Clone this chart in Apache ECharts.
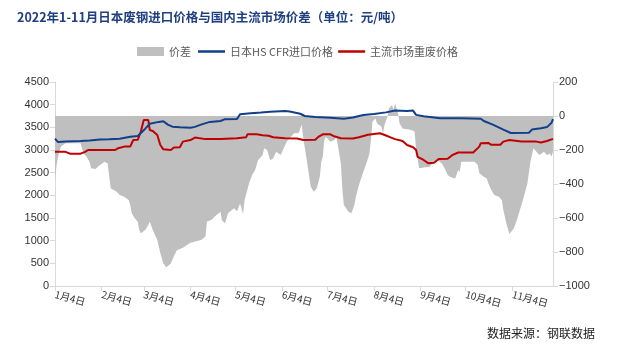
<!DOCTYPE html>
<html>
<head>
<meta charset="utf-8">
<script src="https://cdn.jsdelivr.net/npm/echarts@6/dist/echarts.min.js"></script>
<style>
  html, body { margin: 0; padding: 0; background: #fff; }
  #chart { width: 625px; height: 354px; }
</style>
</head>
<body>
<div id="chart"></div>
<script>
// tick dates on the x axis (4th of each month)
var tickDates = ['01-04', '02-04', '03-04', '04-04', '05-04', '06-04', '07-04', '08-04', '09-04', '10-04', '11-04'];

// 日本HS CFR进口价格 (left axis)
var importDates = ['01-04', '01-06', '01-11', '01-21', '01-27', '02-03', '02-09', '02-16', '02-23', '02-28',
  '03-01', '03-05', '03-08', '03-14', '03-17', '03-20', '03-23', '03-28', '04-04', '04-07',
  '04-11', '04-17', '04-24', '04-27', '05-05', '05-07', '05-14', '05-21', '05-27', '06-06',
  '06-09', '06-16', '06-19', '06-26', '07-06', '07-15', '07-21', '07-28', '08-04', '08-12',
  '08-18', '08-26', '08-30', '09-01', '09-06', '09-17', '10-01', '10-14', '10-16', '10-22',
  '10-29', '11-03', '11-15', '11-17', '11-23', '11-27', '11-30', '12-01'];
var importPrice = [3250, 3175, 3190, 3200, 3210, 3230, 3235, 3250, 3290, 3310,
  3320, 3470, 3580, 3620, 3635, 3560, 3515, 3500, 3490, 3510,
  3560, 3620, 3640, 3680, 3685, 3790, 3810, 3825, 3845, 3860,
  3850, 3800, 3750, 3730, 3710, 3690, 3715, 3770, 3795, 3830,
  3870, 3860, 3870, 3775, 3745, 3700, 3700, 3690, 3640, 3560,
  3450, 3375, 3380, 3450, 3480, 3505, 3600, 3680];

// 主流市场重废价格 (left axis)
var domesticDates = ['01-04', '01-11', '01-14', '01-21', '01-24', '01-26', '02-13', '02-15', '02-19', '02-23',
  '02-25', '02-28', '03-02', '03-04', '03-07', '03-08', '03-10', '03-13', '03-15', '03-17',
  '03-22', '03-24', '03-28', '03-30', '04-04', '04-07', '04-14', '04-24', '05-05', '05-11',
  '05-12', '05-18', '05-22', '05-26', '05-29', '06-06', '06-14', '06-18', '06-26', '06-28',
  '07-01', '07-06', '07-08', '07-13', '07-21', '07-25', '07-31', '08-01', '08-08', '08-12',
  '08-15', '08-18', '08-23', '08-26', '08-30', '09-01', '09-02', '09-06', '09-09', '09-13',
  '09-16', '09-22', '09-25', '09-29', '10-09', '10-13', '10-14', '10-19', '10-21', '10-27',
  '10-29', '11-02', '11-10', '11-20', '11-23', '11-27', '12-01'];
var domesticPrice = [2960, 2960, 2920, 2920, 2960, 3000, 3000, 3040, 3075, 3075,
  3220, 3225, 3400, 3660, 3660, 3440, 3420, 3330, 3110, 3015,
  3000, 3055, 3060, 3185, 3220, 3275, 3240, 3245, 3260, 3280,
  3350, 3345, 3325, 3315, 3280, 3260, 3255, 3220, 3225, 3290,
  3345, 3345, 3310, 3260, 3255, 3280, 3335, 3370, 3370, 3320,
  3280, 3240, 3200, 3110, 3060, 3000, 2850, 2780, 2710, 2720,
  2800, 2805, 2885, 2945, 2945, 3075, 3150, 3155, 3115, 3115,
  3185, 3220, 3190, 3185, 3165, 3200, 3245];

// 价差 (right axis)
var spreadDates = ['01-04', '01-05', '01-06', '01-08', '01-09', '01-11', '01-21', '01-22', '01-23', '01-25',
  '01-27', '01-28', '01-31', '02-02', '02-06', '02-08', '02-10', '02-12', '02-14', '02-16',
  '02-19', '02-22', '02-23', '02-24', '02-26', '02-28', '03-01', '03-02', '03-05', '03-07',
  '03-08', '03-10', '03-13', '03-15', '03-17', '03-19', '03-22', '03-24', '03-26', '03-30',
  '04-04', '04-11', '04-14', '04-15', '04-18', '04-20', '04-24', '04-25', '04-27', '04-29',
  '05-03', '05-05', '05-07', '05-09', '05-10', '05-13', '05-15', '05-17', '05-19', '05-22',
  '05-23', '05-25', '05-27', '05-29', '05-31', '06-03', '06-05', '06-07', '06-09', '06-12',
  '06-15', '06-17', '06-18', '06-20', '06-21', '06-23', '06-25', '06-27', '06-29', '06-30',
  '07-01', '07-02', '07-03', '07-06', '07-09', '07-10', '07-11', '07-13', '07-14', '07-15',
  '07-18', '07-20', '07-22', '07-23', '07-25', '07-28', '07-30', '08-01', '08-02', '08-03',
  '08-05', '08-06', '08-09', '08-10', '08-11', '08-13', '08-14', '08-16', '08-17', '08-18',
  '08-20', '08-21', '08-23', '08-26', '08-29', '08-31', '09-01', '09-02', '09-03', '09-07',
  '09-10', '09-12', '09-15', '09-18', '09-20', '09-22', '09-24', '09-27', '09-29', '09-30',
  '10-01', '10-10', '10-12', '10-13', '10-16', '10-18', '10-19', '10-21', '10-23', '10-26',
  '10-28', '10-29', '10-31', '11-02', '11-03', '11-05', '11-07', '11-09', '11-11', '11-14',
  '11-16', '11-18', '11-20', '11-22', '11-25', '11-27', '11-29', '11-30', '12-01'];
var spread = [-380, -290, -240, -180, -170, -160, -160, -190, -220, -240,
  -270, -308, -312, -294, -269, -280, -425, -435, -445, -465,
  -475, -494, -523, -572, -602, -622, -670, -690, -670, -641,
  -622, -670, -729, -808, -867, -890, -867, -825, -790, -775,
  -745, -730, -710, -620, -612, -592, -563, -615, -631, -572,
  -543, -560, -514, -575, -494, -396, -347, -318, -259, -229,
  -190, -200, -260, -249, -210, -229, -190, -151, -130, -102,
  -100, -50, -130, -239, -300, -416, -445, -425, -357, -269,
  -239, -141, -122, -151, -140, -122, -130, -278, -435, -523,
  -563, -572, -523, -475, -406, -327, -278, -220, -141, -33,
  -14, -43, -63, -102, -53, -4, 45, 65, 35, 75,
  16, -43, -73, -78, -82, -92, -200, -250, -308, -302,
  -298, -278, -259, -278, -308, -347, -361, -367, -318, -330,
  -269, -269, -288, -337, -357, -367, -396, -435, -465, -475,
  -494, -553, -631, -694, -700, -661, -612, -553, -494, -396,
  -269, -190, -210, -229, -210, -229, -220, -239, -210];

// x positions are days counted from 1月4日 so the axis can use fixed tick values
var DAY = 24 * 3600 * 1000;
var start = Date.UTC(2022, 0, 4);
function toDay(s) {
  var p = s.split('-');
  return Math.round((Date.UTC(2022, +p[0] - 1, +p[1]) - start) / DAY);
}
function dayLabel(v) {
  var d = new Date(start + v * DAY);
  return (d.getUTCMonth() + 1) + '月' + d.getUTCDate() + '日';
}
function pairs(dates, values) {
  return dates.map(function (d, i) { return [toDay(d), values[i]]; });
}

var chart = echarts.init(document.getElementById('chart'));
var axisColor = '#D9D9D9';
var labelColor = '#333';
var ticks = tickDates.map(toDay);
var blue = '#123F8C';
var red = '#C00000';
var grey = '#BFBFBF';
var legendText = { fontFamily: 'Noto Sans CJK SC', fontSize: 11, color: '#595959' };

chart.setOption({
  animation: false,
  title: {
    text: '2022年1-11月日本废钢进口价格与国内主流市场价差（单位：元/吨）',
    left: 17,
    top: 11,
    padding: 0,
    textStyle: {
      fontFamily: 'Noto Sans CJK SC',
      fontSize: 12.5,
      fontWeight: 'bold',
      color: '#1F3F80'
    }
  },
  legend: [
    {
      left: 137,
      top: 41,
      padding: [5, 0],
      itemWidth: 27,
      itemHeight: 9,
      textStyle: legendText,
      data: [{ name: '价差', icon: 'rect' }]
    },
    {
      left: 198,
      top: 41,
      padding: [5, 0],
      itemWidth: 27,
      itemHeight: 2.5,
      itemGap: 5,
      textStyle: legendText,
      data: [
        { name: '日本HS CFR进口价格', icon: 'rect' },
        { name: '主流市场重废价格', icon: 'rect' }
      ]
    }
  ],
  grid: { left: 55, right: 72, top: 82, bottom: 68 },
  xAxis: {
    type: 'value',
    min: 0,
    max: toDay('12-01'),
    axisLine: { lineStyle: { color: axisColor } },
    axisTick: {
      show: true,
      length: 5,
      lineStyle: { color: axisColor },
      customValues: ticks
    },
    axisLabel: {
      customValues: ticks,
      rotate: -15,
      margin: 8,
      fontFamily: 'Noto Sans CJK SC',
      fontSize: 10,
      color: labelColor,
      formatter: dayLabel
    },
    splitLine: { show: false }
  },
  yAxis: [
    {
      type: 'value',
      min: 0,
      max: 4500,
      interval: 500,
      axisLine: { show: true, lineStyle: { color: axisColor } },
      axisTick: { show: true, length: 5, lineStyle: { color: axisColor } },
      axisLabel: {
        fontFamily: 'Liberation Sans', fontSize: 11, color: labelColor, margin: 6,
        formatter: function (v) { return String(v); }
      },
      splitLine: { show: false }
    },
    {
      type: 'value',
      min: -1000,
      max: 200,
      interval: 200,
      axisLine: { show: true, lineStyle: { color: axisColor } },
      axisTick: { show: true, length: 5, lineStyle: { color: axisColor } },
      axisLabel: {
        fontFamily: 'Liberation Sans', fontSize: 11, color: labelColor, margin: 6,
        formatter: function (v) { return v < 0 ? '\u2212' + Math.abs(v) : String(v); }
      },
      splitLine: { show: false }
    }
  ],
  series: [
    {
      name: '价差',
      type: 'line',
      yAxisIndex: 1,
      symbol: 'none',
      silent: true,
      z: 1,
      itemStyle: { color: grey },
      lineStyle: { width: 0, color: grey },
      areaStyle: { color: grey, opacity: 1, origin: 'auto' },
      data: pairs(spreadDates, spread)
    },
    {
      name: '日本HS CFR进口价格',
      type: 'line',
      yAxisIndex: 0,
      symbol: 'none',
      z: 3,
      itemStyle: { color: blue },
      lineStyle: { width: 2, color: blue },
      data: pairs(importDates, importPrice)
    },
    {
      name: '主流市场重废价格',
      type: 'line',
      yAxisIndex: 0,
      symbol: 'none',
      z: 2,
      itemStyle: { color: red },
      lineStyle: { width: 2, color: red },
      data: pairs(domesticDates, domesticPrice)
    }
  ],
  graphic: [
    {
      type: 'text',
      right: 30,
      top: 327,
      style: {
        text: '数据来源：钢联数据',
        font: '12px "Noto Sans CJK SC"',
        fill: '#222'
      }
    }
  ]
});
</script>
</body>
</html>
